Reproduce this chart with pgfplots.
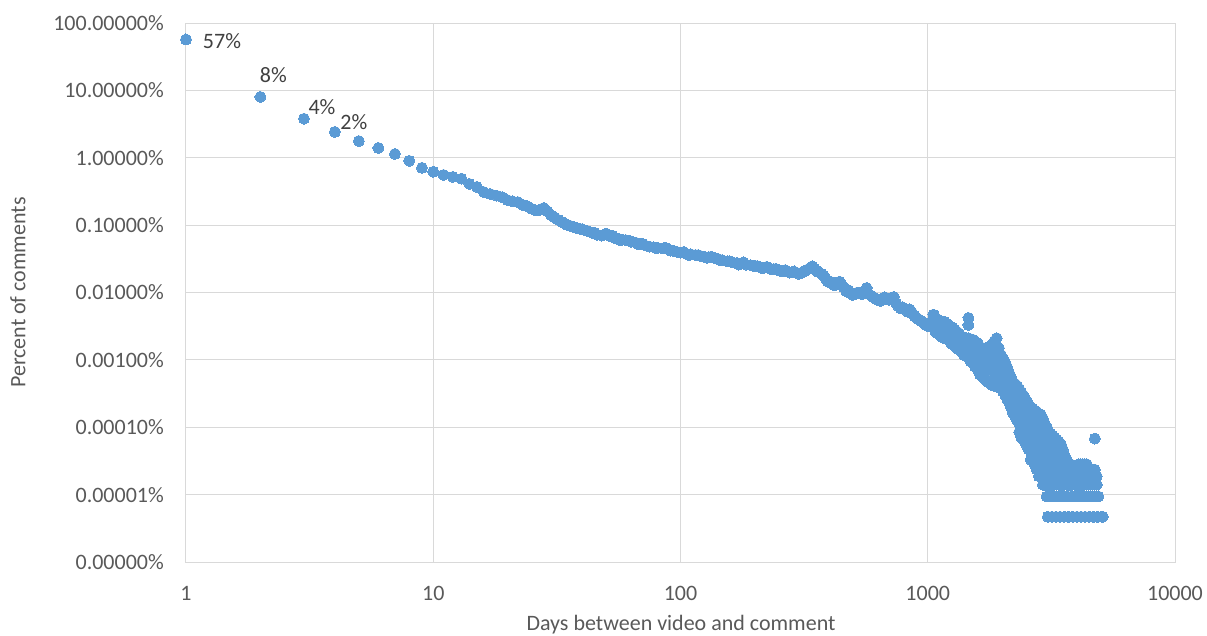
\documentclass[border=0pt]{standalone}
\usepackage{pgfplots}
\pgfplotsset{compat=1.18}
\usepackage{fontspec}
\setmainfont{Carlito}
\definecolor{dot}{HTML}{5B9BD5}
\definecolor{gridc}{HTML}{D9D9D9}
\definecolor{txt}{HTML}{595959}
\definecolor{lbl}{HTML}{404040}
\pgfplotsset{dots/.style={color=dot, only marks, mark=*, mark size=5.5pt, mark options={draw=dot, fill=dot, line width=0pt}}}
\begin{document}
\fontsize{22}{26}\selectfont
\begin{tikzpicture}
\path[use as bounding box] (-186pt,-73pt) rectangle (1021pt,562pt);
\begin{axis}[
  at={(0pt,0pt)}, anchor=south west,
  scale only axis, width=989pt, height=539pt,
  xmode=log, ymode=log,
  xmin=1, xmax=10000, ymin=1e-6, ymax=100,
  xtick={1,10,100,1000,10000},
  xticklabels={1,10,100,1000,10000},
  ytick={1e-6,1e-5,1e-4,1e-3,1e-2,1e-1,1,10,100},
  yticklabels={0.00000\%,0.00001\%,0.00010\%,0.00100\%,0.01000\%,0.10000\%,1.00000\%,10.00000\%,100.00000\%},
  xminorticks=false, yminorticks=false,
  tick style={draw=none},
  grid=major,
  major grid style={draw=gridc, line width=1pt},
  axis line style={draw=gridc, line width=1pt},
  ticklabel style={font=\fontsize{22}{26}\selectfont, text=txt, inner sep=0pt},
  xticklabel style={anchor=center, yshift=-31pt},
  yticklabel style={anchor=east, xshift=-22pt},
  clip=false,
]
% days 1-29
\addplot[dots] coordinates {(1,57) (2,8.0) (3,3.8) (4,2.42) (5,1.77) (6,1.40) (7,1.14) (8,0.90) (9,0.71) (10,0.62)
 (11,0.556) (12,0.52) (13,0.49) (14,0.41) (15,0.37) (16,0.31) (17,0.29) (18,0.275) (19,0.26) (20,0.235)
 (21,0.225) (22,0.22) (23,0.20) (24,0.19) (25,0.175) (26,0.165) (27,0.17) (28,0.18) (29,0.16)};
% main band 30-1000
\addplot[dots] coordinates {(30,0.140) (31,0.130) (32,0.120) (33,0.112) (34,0.106) (35,0.100) (36,0.097) (37,0.094)
 (38,0.091) (39,0.089) (40,0.087) (42,0.082) (44,0.077) (46,0.072) (48,0.070) (50,0.075) (52,0.068) (54,0.065)
 (56,0.063) (58,0.061) (60,0.060) (63,0.057) (66,0.055) (69,0.052) (72,0.050) (75,0.048) (78,0.047) (81,0.046)
 (85,0.045) (89,0.044) (93,0.042) (97,0.040) (100,0.039) (105,0.038) (110,0.037) (115,0.036) (120,0.035)
 (125,0.034) (130,0.0335) (136,0.033) (142,0.0315) (148,0.030) (155,0.029) (162,0.028) (169,0.0275) (176,0.027)
 (184,0.026) (192,0.0255) (200,0.025) (209,0.024) (218,0.0235) (228,0.023) (238,0.0222) (248,0.0215) (259,0.021)
 (270,0.0205) (282,0.020) (294,0.0197) (307,0.0195) (320,0.021) (334,0.023) (348,0.0225) (363,0.020) (379,0.018)
 (395,0.0145) (412,0.0135) (430,0.0135) (449,0.013) (468,0.0105) (488,0.0098) (509,0.0096) (531,0.0097)
 (554,0.0105) (578,0.0095) (603,0.0085) (629,0.0078) (656,0.0080) (684,0.0080) (714,0.0082) (745,0.0070)
 (777,0.0058) (811,0.0057) (846,0.0056) (882,0.0045) (920,0.0040) (960,0.0036) (1000,0.0032)};
% scatter within main band
\addplot[dots] coordinates {(45,0.077) (53,0.070) (57,0.060) (62,0.059) (67,0.053) (70,0.053) (80,0.045) (87,0.046)
 (91,0.042) (103,0.040) (108,0.036) (118,0.036) (128,0.033) (133,0.034) (145,0.030) (158,0.029) (172,0.026)
 (180,0.028) (196,0.025) (205,0.0245) (214,0.023) (223,0.024) (233,0.022) (243,0.0225) (253,0.021) (265,0.0215)
 (276,0.0198) (288,0.0205) (300,0.019) (313,0.020) (327,0.022) (341,0.0245) (355,0.021) (371,0.019) (387,0.016)
 (404,0.0145) (421,0.0128) (440,0.0145) (458,0.0118) (478,0.0108) (498,0.0092) (520,0.0100) (542,0.0095)
 (566,0.0117) (590,0.0090) (616,0.0080) (642,0.0075) (670,0.0085) (699,0.0078) (729,0.0086) (761,0.0062)
 (794,0.0060) (828,0.0052) (864,0.0050) (901,0.0042) (940,0.0038) (980,0.0033)};
% tail band 1000-3000
\addplot[dots] coordinates {
 (1054,0.0047) (1054,0.00385) (1054,0.0031)
 (1075,0.0042) (1075,0.0034) (1075,0.0026)
 (1119,0.0038) (1119,0.0030) (1119,0.00235)
 (1165,0.0037) (1165,0.0029) (1165,0.0021)
 (1213,0.0033) (1213,0.0026) (1213,0.0020)
 (1262,0.0030) (1262,0.0023) (1262,0.0017)
 (1314,0.0026) (1314,0.0021) (1314,0.0015)
 (1349,0.00235) (1349,0.0019) (1349,0.0014)
 (1403,0.0021) (1403,0.00165) (1403,0.00118)
 (1461,0.0042) (1461,0.0033) (1461,0.0021) (1461,0.00155) (1461,0.00108)
 (1520,0.0020) (1520,0.0014) (1520,0.00094)
 (1583,0.0018) (1583,0.0013) (1583,0.00094) (1583,0.00075)
 (1624,0.00155) (1624,0.00113) (1624,0.0008) (1624,0.00061)
 (1685,0.00146) (1685,0.00108) (1685,0.00075) (1685,0.00054)
 (1756,0.00155) (1756,0.00108) (1756,0.00075) (1756,0.00047)
 (1820,0.0017) (1820,0.00113) (1820,0.00075) (1820,0.00047) (1820,0.00042)
 (1900,0.0021) (1900,0.00155) (1900,0.00108) (1900,0.0007) (1900,0.00047) (1900,0.0004)
 (1980,0.00118) (1980,0.0008) (1980,0.00056) (1980,0.00038)
 (2050,0.00094) (2050,0.00066) (2050,0.00047) (2050,0.00031)
 (2127,0.00066) (2127,0.00047) (2127,0.00033) (2127,0.00024)
 (2210,0.00047) (2210,0.00033) (2210,0.000235) (2210,0.000165)
 (2300,0.00041) (2300,0.00028) (2300,0.000188) (2300,0.000127)
 (2390,0.00033) (2390,0.000226) (2390,0.000155) (2390,0.000103) (2390,0.0000705)
 (2469,0.000273) (2469,0.000188) (2469,0.000127) (2469,0.0000846) (2469,0.0000611)
 (2560,0.000216) (2560,0.00015) (2560,0.000103) (2560,0.0000705) (2560,0.000047)
 (2660,0.000188) (2660,0.000132) (2660,0.0000893) (2660,0.0000611) (2660,0.0000423) (2660,0.0000329)
 (2760,0.000169) (2760,0.000118) (2760,0.0000799) (2760,0.0000564) (2760,0.0000376) (2760,0.0000235)
 (2866,0.000155) (2866,0.000108) (2866,0.0000752) (2866,0.0000517) (2866,0.0000329) (2866,0.0000235) (2866,0.0000188)
 (2976,0.000113) (2976,0.0000752) (2976,0.0000517) (2976,0.0000376) (2976,0.0000282) (2976,0.0000188) (2976,0.0000141)};
% tail band, in-between days
\addplot[dots] coordinates {
 (1064,0.0045) (1064,0.0036) (1064,0.0029)
 (1097,0.0040) (1097,0.0032) (1097,0.0025)
 (1142,0.0037) (1142,0.0029) (1142,0.0022)
 (1189,0.0035) (1189,0.0027) (1189,0.0021)
 (1237,0.0031) (1237,0.0024) (1237,0.0018)
 (1288,0.0028) (1288,0.0022) (1288,0.0016)
 (1331,0.0025) (1331,0.0020) (1331,0.00145)
 (1376,0.0022) (1376,0.0017) (1376,0.0013)
 (1432,0.0021) (1432,0.0016) (1432,0.0012)
 (1490,0.0020) (1490,0.0015) (1490,0.0011) (1490,0.00095)
 (1551,0.0019) (1551,0.00135) (1551,0.00095) (1551,0.0008)
 (1603,0.0017) (1603,0.0012) (1603,0.00087) (1603,0.00068)
 (1654,0.0015) (1654,0.0011) (1654,0.00078) (1654,0.00058)
 (1720,0.0015) (1720,0.00108) (1720,0.00075) (1720,0.0005)
 (1788,0.0016) (1788,0.0011) (1788,0.00075) (1788,0.00045)
 (1860,0.0019) (1860,0.0013) (1860,0.0009) (1860,0.0006) (1860,0.00042)
 (1940,0.0015) (1940,0.00105) (1940,0.0007) (1940,0.00048) (1940,0.00039)
 (2015,0.00105) (2015,0.00072) (2015,0.0005) (2015,0.00034)
 (2088,0.0008) (2088,0.00056) (2088,0.0004) (2088,0.00027)
 (2168,0.00056) (2168,0.0004) (2168,0.00028) (2168,0.0002)
 (2255,0.00044) (2255,0.0003) (2255,0.00021) (2255,0.000145)
 (2345,0.00037) (2345,0.00025) (2345,0.00017) (2345,0.000115) (2345,0.000085)
 (2430,0.0003) (2430,0.0002) (2430,0.00014) (2430,0.000094) (2430,0.000066)
 (2515,0.000245) (2515,0.00017) (2515,0.000115) (2515,0.000078) (2515,0.000054)
 (2610,0.0002) (2610,0.00014) (2610,0.000096) (2610,0.000066) (2610,0.000045) (2610,0.000033)
 (2710,0.000178) (2710,0.000125) (2710,0.000085) (2710,0.000059) (2710,0.00004) (2710,0.000028)
 (2813,0.00016) (2813,0.000113) (2813,0.000078) (2813,0.000054) (2813,0.0000376) (2813,0.0000282) (2813,0.0000188)
 (2921,0.000135) (2921,0.000094) (2921,0.000066) (2921,0.000047) (2921,0.0000329) (2921,0.0000235) (2921,0.0000188) (2921,0.0000141)};
% tail 3000-5100
\addplot[dots] coordinates {
 (3033,0.0001) (3033,0.0000658) (3033,0.000047) (3033,0.0000329) (3033,0.0000235) (3033,0.0000188) (3033,0.0000141)
 (3090,0.0000846) (3090,0.0000564) (3090,0.0000423) (3090,0.0000282) (3090,0.0000188) (3090,0.0000141)
 (3147,0.000080) (3147,0.0000564) (3147,0.000047) (3147,0.0000329) (3147,0.0000235) (3147,0.0000188) (3147,0.0000141)
 (3205,0.0000752) (3205,0.0000517) (3205,0.0000376) (3205,0.0000282) (3205,0.0000188) (3205,0.0000141)
 (3265,0.000070) (3265,0.000047) (3265,0.0000376) (3265,0.0000282) (3265,0.0000235) (3265,0.0000188) (3265,0.0000141)
 (3325,0.0000658) (3325,0.000047) (3325,0.0000329) (3325,0.0000235) (3325,0.0000188) (3325,0.0000141)
 (3389,0.000061) (3389,0.0000423) (3389,0.0000329) (3389,0.0000282) (3389,0.0000188) (3389,0.0000141)
 (3453,0.0000564) (3453,0.0000423) (3453,0.0000329) (3453,0.0000235) (3453,0.0000188) (3453,0.0000141)
 (3518,0.000047) (3518,0.0000376) (3518,0.0000282) (3518,0.0000235) (3518,0.0000188) (3518,0.0000141)
 (3584,0.0000376) (3584,0.0000282) (3584,0.0000235) (3584,0.0000188) (3584,0.0000141)
 (3652,0.0000329) (3652,0.0000282) (3652,0.0000235) (3652,0.0000188) (3652,0.0000141)
 (3720,0.0000282) (3720,0.0000235) (3720,0.0000188) (3720,0.0000141)
 (3790,0.0000282) (3790,0.0000235) (3790,0.0000188) (3790,0.0000141)
 (3860,0.0000235) (3860,0.0000188) (3860,0.0000141)
 (3935,0.0000235) (3935,0.0000188) (3935,0.0000141)
 (4010,0.0000235) (4010,0.0000188) (4010,0.0000141)
 (4085,0.0000282) (4085,0.0000235) (4085,0.0000188) (4085,0.0000141)
 (4160,0.0000282) (4160,0.0000235) (4160,0.0000188) (4160,0.0000141)
 (4238,0.0000282) (4238,0.0000235) (4238,0.0000188) (4238,0.0000141)
 (4317,0.0000282) (4317,0.0000235) (4317,0.0000188) (4317,0.0000141)
 (4398,0.0000282) (4398,0.0000235) (4398,0.0000188) (4398,0.0000141)
 (4480,0.0000235) (4480,0.0000188) (4480,0.0000141)
 (4565,0.0000235) (4565,0.0000188) (4565,0.0000141)
 (4650,0.0000235) (4650,0.0000188) (4650,0.0000141)
 (4737,0.0000235) (4737,0.0000188) (4737,0.0000141)
 (4825,0.0000188) (4825,0.0000141)
 (4742,0.000068)};
% two comments
\addplot[dots] coordinates {(3030,0.0000094) (3150,0.0000094) (3270,0.0000094) (3400,0.0000094) (3530,0.0000094)
 (3670,0.0000094) (3820,0.0000094) (3970,0.0000094) (4130,0.0000094) (4290,0.0000094) (4460,0.0000094)
 (4630,0.0000094) (4810,0.0000094) (4900,0.0000094)};
% one comment
\addplot[dots] coordinates {(3060,0.0000047) (3180,0.0000047) (3300,0.0000047) (3430,0.0000047) (3570,0.0000047)
 (3710,0.0000047) (3860,0.0000047) (4010,0.0000047) (4170,0.0000047) (4330,0.0000047) (4500,0.0000047)
 (4680,0.0000047) (4860,0.0000047) (5050,0.0000047) (5100,0.0000047)};
\node[text=lbl, anchor=center] at (axis cs:1,57) [xshift=36pt, yshift=-2pt] {57\%};
\node[text=lbl, anchor=center] at (axis cs:2,8.0) [xshift=13pt, yshift=22pt] {8\%};
\node[text=lbl, anchor=center] at (axis cs:3,3.8) [xshift=18pt, yshift=12pt] {4\%};
\node[text=lbl, anchor=center] at (axis cs:4,2.42) [xshift=19pt, yshift=10pt] {2\%};
\end{axis}
\node[text=txt, anchor=center] at (495pt,-63pt) {Days between video and comment};
\node[text=txt, anchor=center, rotate=90] at (-168pt,269.5pt) {Percent of comments};
\end{tikzpicture}
\end{document}
